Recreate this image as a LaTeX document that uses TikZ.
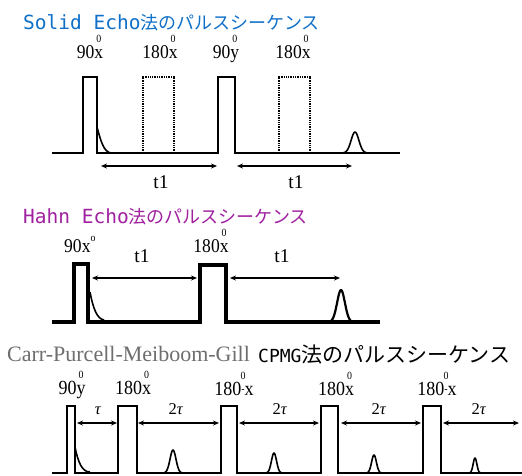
\documentclass[tikz,border=0pt]{standalone}
\usepackage{fontspec}
\usepackage{graphicx}
\setmainfont{Liberation Serif}
\newfontfamily\jpfont{Noto Sans CJK JP}
\newfontfamily\latfont{DejaVu Sans Mono}
\usetikzlibrary{arrows.meta}
\definecolor{titleblue}{RGB}{16,112,200}
\definecolor{titlepurple}{RGB}{160,32,160}
\definecolor{cpmggray}{RGB}{110,110,110}
\newcommand\ovz[1]{\ooalign{#1\cr\hidewidth\raisebox{16pt}{\fontsize{11}{11}\selectfont 0}\hidewidth\cr}}
\newcommand\supz{\raisebox{11pt}{\fontsize{11}{11}\selectfont o}}
\newcommand\nar[1]{\scalebox{0.9}[1]{#1}}
\begin{document}
\begin{tikzpicture}[x=1pt,y=-1pt,
  >={Stealth[length=6pt,width=5pt]},
  ttl/.style={anchor=base west,inner sep=0pt},
  lbl/.style={anchor=base,inner sep=0pt,font=\fontsize{19.5}{19.5}\selectfont},
  clbl/.style={anchor=base,inner sep=0pt,font=\fontsize{20}{20}\selectfont},
  tlbl/.style={anchor=base,inner sep=0pt,font=\fontsize{16.5}{16.5}\selectfont},
  seq/.style={line width=2.2pt,line join=miter},
  thickseq/.style={line width=4.5pt,line join=miter},
  dotpulse/.style={line width=2pt,dash pattern=on 1.3pt off 1pt},
  span/.style={<->,line width=1.3pt},
  sig/.style={line width=1.6pt}]
\path[use as bounding box,fill=white] (0,0) rectangle (522,475);

% ---------------- Solid Echo ----------------
\node[ttl,text=titleblue] (t1title) at (23,29)
  {\latfont\fontsize{19.5}{19.5}\selectfont Solid Echo\jpfont\fontsize{18}{18}\selectfont 法のパルスシーケンス};
\draw[seq] (52,153) -- (83,153) -- (83,77) -- (97,77) -- (97,153) -- (218,153)
  -- (218,77) -- (235,77) -- (235,153) -- (400,153);
\draw[dotpulse] (143,153) -- (143,77) -- (174,77) -- (174,153);
\draw[dotpulse] (279,153) -- (279,77) -- (310,77) -- (310,153);
\draw[sig] (97,127) .. controls (101,142) and (104,152) .. (111,153);
\draw[sig] plot[domain=-13:13,samples=40] ({355+\x},{153-21*exp(-(\x/5.5)^2)});
\coordinate (sa1) at (101,166); \coordinate (sb1) at (217,166);
\coordinate (sa2) at (237,166); \coordinate (sb2) at (352,166);
\draw[span] (sa1) -- (sb1);
\draw[span] (sa2) -- (sb2);
\node[lbl] (st1) at (161,188) {t1};
\node[lbl] (st2) at (296,188) {t1};
\node[lbl] (sp1) at (90,58) {\nar{90\ovz{x}}};
\node[lbl] (sp2) at (160,58) {\nar{180\ovz{x}}};
\node[lbl] (sp3) at (226,58) {\nar{90\ovz{y}}};
\node[lbl] (sp4) at (293,58) {\nar{180\ovz{x}}};

% ---------------- Hahn Echo ----------------
\node[ttl,text=titlepurple] (t2title) at (23,223)
  {\latfont\fontsize{19.5}{19.5}\selectfont Hahn Echo\jpfont\fontsize{18}{18}\selectfont 法のパルスシーケンス};
\draw[thickseq] (52,322) -- (74,322) -- (74,264) -- (88,264) -- (88,322) -- (200,322)
  -- (200,265) -- (226,265) -- (226,322) -- (380,322);
\draw[sig] (90,292) .. controls (93,308) and (97,319) .. (104,320);
\draw[line width=2.2pt] plot[domain=-12.5:12.5,samples=40] ({341+\x},{322-32*exp(-(\x/5.5)^2)});
\coordinate (ha1) at (92,278); \coordinate (hb1) at (197,278);
\coordinate (ha2) at (230,278); \coordinate (hb2) at (340,278);
\draw[span] (ha1) -- (hb1);
\draw[span] (ha2) -- (hb2);
\node[lbl] (ht1) at (142,262) {t1};
\node[lbl] (ht2) at (282,262) {t1};
\node[lbl,anchor=base west] (hp1) at (64,252) {\nar{90x\supz}};
\node[lbl] (hp2) at (211,252) {\nar{180\ovz{x}}};

% ---------------- CPMG ----------------
\node[ttl,text=cpmggray,font=\fontsize{22}{22}\selectfont] (t3a) at (7,361) {Carr-Purcell-Meiboom-Gill};
\node[ttl] (t3b) at (258,362)
  {\latfont\fontsize{18}{18}\selectfont CPMG\jpfont\fontsize{21}{21}\selectfont 法のパルスシーケンス};
\draw[seq] (52,473) -- (67,473) -- (67,406) -- (75,406) -- (75,473)
  -- (118,473) -- (118,406) -- (137,406) -- (137,473)
  -- (221,473) -- (221,406) -- (237,406) -- (237,473)
  -- (321,473) -- (321,406) -- (338,406) -- (338,473)
  -- (423,473) -- (423,406) -- (441,406) -- (441,473) -- (522,473);
\draw[sig] (75,447) .. controls (78,462) and (82,472) .. (90,472);
\draw[sig] plot[domain=-9.5:9.5,samples=40] ({173+\x},{473-23*exp(-(\x/4.2)^2)});
\draw[sig] plot[domain=-8:8,samples=40] ({274+\x},{473-20*exp(-(\x/3.6)^2)});
\draw[sig] plot[domain=-7.5:7.5,samples=40] ({374+\x},{473-18*exp(-(\x/3.4)^2)});
\draw[sig] plot[domain=-5.5:5.5,samples=40] ({475+\x},{473-15*exp(-(\x/2.6)^2)});
\coordinate (ca1) at (77,423); \coordinate (cb1) at (117,423);
\coordinate (ca2) at (138,423); \coordinate (cb2) at (219,423);
\coordinate (ca3) at (239,423); \coordinate (cb3) at (319,423);
\coordinate (ca4) at (341,423); \coordinate (cb4) at (421,423);
\coordinate (ca5) at (443,423); \coordinate (cb5) at (519,423);
\draw[span] (ca1) -- (cb1);
\draw[span] (ca2) -- (cb2);
\draw[span] (ca3) -- (cb3);
\draw[span] (ca4) -- (cb4);
\draw[span] (ca5) -- (cb5);
\node[tlbl] (ct1) at (98,414) {\textit{τ}};
\node[tlbl] (ct2) at (176,414) {2\textit{τ}};
\node[tlbl] (ct3) at (280,414) {2\textit{τ}};
\node[tlbl] (ct4) at (379,414) {2\textit{τ}};
\node[tlbl] (ct5) at (479,414) {2\textit{τ}};
\node[clbl] (cp1) at (72,394) {\nar{90\ovz{y}}};
\node[clbl] (cp2) at (133,394) {\nar{180\ovz{x}}};
\node[clbl] (cp3) at (234,395) {\nar{180\ovz{\raisebox{3pt}{\fontsize{11}{11}\selectfont -}}x}};
\node[clbl] (cp4) at (336,395) {\nar{180\ovz{x}}};
\node[clbl] (cp5) at (437,395) {\nar{180\ovz{\raisebox{3pt}{\fontsize{11}{11}\selectfont -}}x}};
\end{tikzpicture}
\end{document}
